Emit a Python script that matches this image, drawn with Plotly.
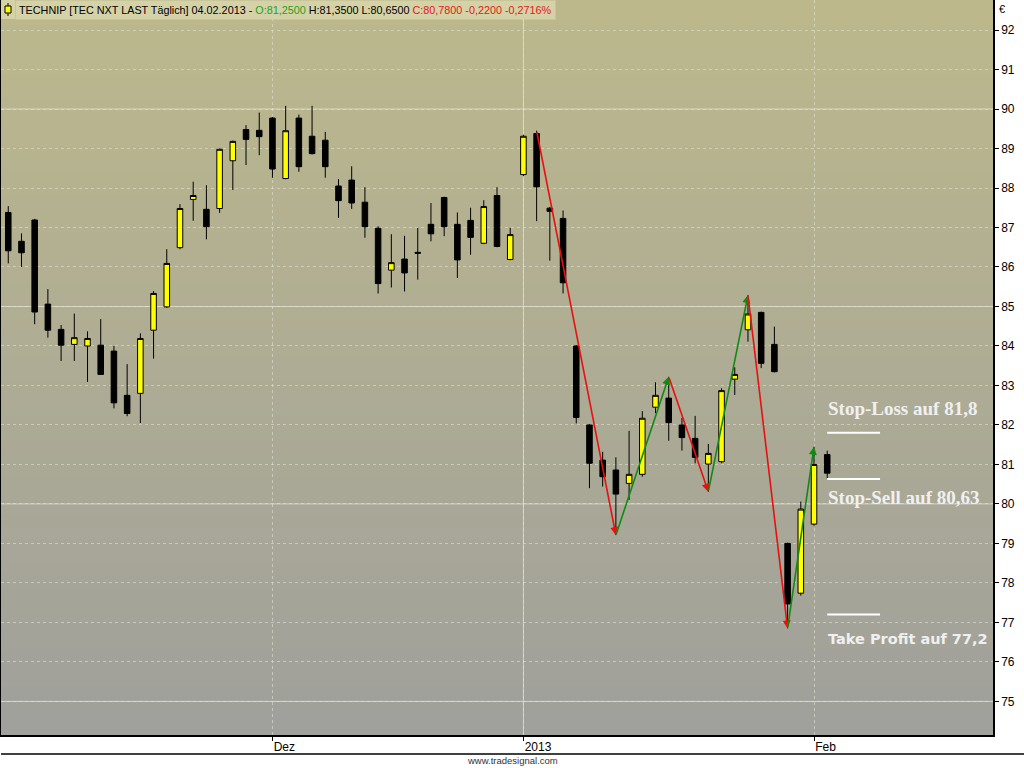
import pandas as pd
import plotly.graph_objects as go

# Trading days (Euronext Paris), 5 Nov 2012 - 4 Feb 2013
holidays = ["2012-12-25", "2012-12-26", "2013-01-01"]
dates = [d for d in pd.bdate_range("2012-11-05", "2013-02-04").strftime("%Y-%m-%d") if d not in holidays]

opens = [87.38, 86.65, 87.19, 85.06, 84.42, 84.04, 84.00, 84.02, 83.87, 82.75,
         82.80, 84.40, 84.99, 86.49, 87.71, 87.46, 87.48, 88.69, 89.48, 89.46,
         89.77, 88.24, 89.77, 89.31, 89.21, 88.05, 88.20, 87.64, 86.98, 85.92,
         86.20, 86.37, 87.08, 87.76, 87.08, 87.18, 86.60, 87.81, 86.19, 88.34,
         89.38, 87.49, 87.23, 84.00, 82.00, 81.11, 80.86, 80.52, 80.75, 82.45,
         82.68, 82.00, 81.66, 81.01, 81.07, 83.16, 84.41, 84.85, 84.04, 79.00,
         77.74, 79.49, 81.25]
highs = [87.54, 86.85, 87.22, 85.44, 84.53, 84.82, 84.37, 84.68, 84.00, 83.54,
         84.32, 85.39, 86.45, 87.59, 88.16, 88.07, 89.00, 89.20, 89.59, 89.91,
         89.80, 90.08, 89.86, 90.08, 89.42, 88.23, 88.55, 88.02, 87.03, 86.83,
         86.79, 86.99, 87.62, 87.78, 87.38, 87.50, 87.69, 88.02, 86.99, 89.35,
         89.45, 87.52, 87.43, 84.02, 82.02, 81.32, 81.18, 81.85, 82.35, 83.08,
         83.22, 82.18, 82.23, 81.52, 82.93, 83.46, 85.29, 84.87, 84.49, 79.02,
         80.06, 81.45, 81.35]
lows = [86.09, 86.00, 84.55, 84.21, 83.62, 83.62, 83.09, 83.27, 82.42, 82.22,
        82.05, 83.68, 84.96, 86.45, 87.17, 86.70, 87.37, 87.95, 88.58, 88.83,
        88.26, 88.22, 88.41, 88.85, 88.26, 87.24, 87.47, 86.74, 85.33, 85.48,
        85.38, 85.68, 86.65, 86.78, 85.72, 86.31, 86.58, 86.50, 86.17, 88.30,
        87.16, 86.16, 85.33, 82.04, 80.40, 80.44, 79.21, 80.10, 80.69, 82.30,
        81.60, 81.35, 81.03, 80.31, 81.03, 82.76, 84.11, 83.44, 83.33, 76.85,
        77.68, 79.45, 80.65]
closes = [86.41, 86.36, 84.86, 84.40, 84.02, 84.21, 84.19, 83.28, 82.56, 82.29,
          84.19, 85.33, 86.09, 87.48, 87.81, 87.02, 88.98, 89.18, 89.23, 89.30,
          88.48, 89.45, 88.54, 88.87, 88.54, 87.68, 87.62, 87.02, 85.58, 86.11,
          85.85, 86.35, 86.84, 87.02, 86.18, 86.75, 87.53, 86.52, 86.82, 89.31,
          88.03, 87.41, 85.60, 82.19, 81.03, 80.69, 80.25, 80.75, 82.17, 82.75,
          82.06, 81.68, 81.18, 81.28, 82.87, 83.28, 84.81, 83.56, 83.35, 77.47,
          79.87, 81.00, 80.78]

tick_dates = ["2012-12-03", "2013-01-02", "2013-02-01"]
tick_text = ["Dez", "2013", "Feb"]

# zigzag swing points
pivot_dates = ["2013-01-03", "2013-01-11", "2013-01-17", "2013-01-22", "2013-01-25", "2013-01-30", "2013-02-01"]
pivot_side = ["high", "low", "high", "low", "high", "low", "high"]

# trade levels
levels = [81.8, 80.63, 77.2]
level_labels = ["Stop-Loss auf 81,8", "Stop-Sell auf 80,63", "Take Profit auf 77,2"]
level_start = "2013-02-04"
level_bars = 4

W, H = 1024, 768
ML, MR, MT, MB = 1, 31, 0, 33
PW, PH = W - ML - MR, H - MT - MB


def px_x(p):
    return p / PW


def px_y(p):
    return 1 - p / PH


idx = list(range(len(dates)))
pos = {d: i for i, d in enumerate(dates)}

fig = go.Figure()
fig.add_trace(go.Candlestick(
    x=idx, open=opens, high=highs, low=lows, close=closes,
    increasing=dict(fillcolor="#FFFF00", line=dict(color="black", width=1)),
    decreasing=dict(fillcolor="black", line=dict(color="black", width=1)),
    whiskerwidth=0, hoverinfo="skip", showlegend=False,
))

shapes = []
# background gradient (khaki at top, grey at bottom); bands overlap to avoid seams
top, bot = (188, 184, 140), (160, 160, 156)
n = 60
for k in range(n):
    t = k / (n - 1)
    c = tuple(round(top[j] + (bot[j] - top[j]) * t) for j in range(3))
    shapes.append(dict(type="rect", xref="paper", yref="paper",
                       x0=0, x1=1, y0=max(0, 1 - (k + 1.6) / n), y1=1 - k / n,
                       fillcolor="rgb(%d,%d,%d)" % c, line=dict(width=0), layer="below"))
# solid grid every 5 units and at the year change
for v in [75, 80, 85, 90]:
    shapes.append(dict(type="line", xref="paper", yref="y", x0=0, x1=1, y0=v, y1=v,
                       line=dict(color="rgba(225,225,210,0.8)", width=1), layer="below"))
shapes.append(dict(type="line", xref="x", yref="paper", x0=pos["2013-01-02"], x1=pos["2013-01-02"],
                   y0=0, y1=1, line=dict(color="rgba(225,225,210,0.8)", width=1), layer="below"))

annotations = []
# zigzag arrows
pivot_price = [highs[pos[d]] if s == "high" else lows[pos[d]] for d, s in zip(pivot_dates, pivot_side)]
for k in range(len(pivot_dates) - 1):
    up = pivot_price[k + 1] > pivot_price[k]
    annotations.append(dict(
        x=pos[pivot_dates[k + 1]], y=pivot_price[k + 1],
        ax=pos[pivot_dates[k]], ay=pivot_price[k], axref="x", ayref="y",
        xref="x", yref="y", text="", showarrow=True,
        arrowhead=2, arrowsize=1, arrowwidth=1.6, standoff=0,
        arrowcolor="#128A12" if up else "#E81010",
    ))

# trade level lines + labels
x0 = pos[level_start]
label_fonts = [
    dict(family="Liberation Serif", size=19, color="#F0F0F0"),
    dict(family="Liberation Serif", size=19, color="#F0F0F0"),
    dict(family="DejaVu Sans", size=14.5, color="#F0F0F0"),
]
label_shift = [(12, "bottom"), (-6, "top"), (-14, "top")]
for lv, lab, f, (ys, ya) in zip(levels, level_labels, label_fonts, label_shift):
    shapes.append(dict(type="line", xref="x", yref="y", x0=x0, x1=x0 + level_bars, y0=lv, y1=lv,
                       line=dict(color="white", width=2), layer="above"))
    annotations.append(dict(x=x0 - 0.1, y=lv, xref="x", yref="y", text="<b>" + lab + "</b>", showarrow=False,
                            xanchor="left", yanchor=ya, yshift=ys, font=f))

# header box + icon
shapes.append(dict(type="rect", xref="paper", yref="paper", x0=0, x1=px_x(14), y0=px_y(19), y1=1,
                   fillcolor="#D6D2A8", line=dict(width=0), layer="above"))
shapes.append(dict(type="line", xref="paper", yref="paper", x0=px_x(7), x1=px_x(7), y0=px_y(16), y1=px_y(3),
                   line=dict(color="black", width=1), layer="above"))
shapes.append(dict(type="rect", xref="paper", yref="paper", x0=px_x(4), x1=px_x(10), y0=px_y(13), y1=px_y(6),
                   fillcolor="#FFFF00", line=dict(color="black", width=1), layer="above"))
header = ("TECHNIP [TEC NXT LAST Täglich] 04.02.2013 - "
          "<span style='color:#1FA01F'>O:81,2500</span> H:81,3500 L:80,6500 "
          "<span style='color:#E01818'>C:80,7800 -0,2200 -0,2716%</span>")
annotations.append(dict(x=px_x(14), y=1, xref="paper", yref="paper", text=header, showarrow=False,
                        xanchor="left", yanchor="top", bgcolor="#D6D2A8", borderpad=3,
                        font=dict(family="Liberation Sans", size=10.8, color="black")))
annotations.append(dict(x=1.004, y=1, xref="paper", yref="paper", text="€", showarrow=False,
                        xanchor="left", yanchor="top", yshift=-1,
                        font=dict(family="Liberation Sans", size=11, color="black")))
annotations.append(dict(x=px_x(511), y=px_y(760), xref="paper", yref="paper", text="www.tradesignal.com",
                        showarrow=False, xanchor="center", yanchor="middle",
                        font=dict(family="Liberation Sans", size=9.5, color="#333333")))
# bottom frame line of the time axis
shapes.append(dict(type="line", xref="paper", yref="paper", x0=0, x1=(W - ML) / PW, y0=px_y(754), y1=px_y(754),
                   line=dict(color="black", width=1.5)))

fig.update_layout(
    width=W, height=H, margin=dict(l=ML, r=MR, t=MT, b=MB),
    paper_bgcolor="white", plot_bgcolor="rgba(0,0,0,0)",
    boxgap=0.4, showlegend=False, hovermode=False,
    shapes=shapes, annotations=annotations,
    font=dict(family="Liberation Sans", size=11, color="black"),
)
fig.update_xaxes(
    range=[-0.55, 74.55], rangeslider_visible=False,
    tickvals=[pos[d] for d in tick_dates], ticktext=tick_text,
    ticks="outside", ticklen=4, tickcolor="black", ticklabelposition="outside right",
    showgrid=True, gridcolor="rgba(225,225,210,0.6)", griddash="dot",
    showline=True, linecolor="black", linewidth=1.5, zeroline=False,
    tickfont=dict(family="Liberation Sans", size=12, color="black"),
)
fig.update_yaxes(
    side="right", range=[74.15, 92.76], dtick=1, tick0=0,
    ticks="outside", ticklen=4, tickcolor="black",
    showgrid=True, gridcolor="rgba(225,225,210,0.6)", griddash="dot",
    showline=True, linecolor="black", linewidth=1.5, mirror=True, zeroline=False,
    tickfont=dict(family="Liberation Sans", size=12, color="black"),
)

# drop the default page margin so the 1024x768 figure fills the window
fig.write_html("out.html", config={"displayModeBar": False},
               post_script="document.body.style.margin='0';")
